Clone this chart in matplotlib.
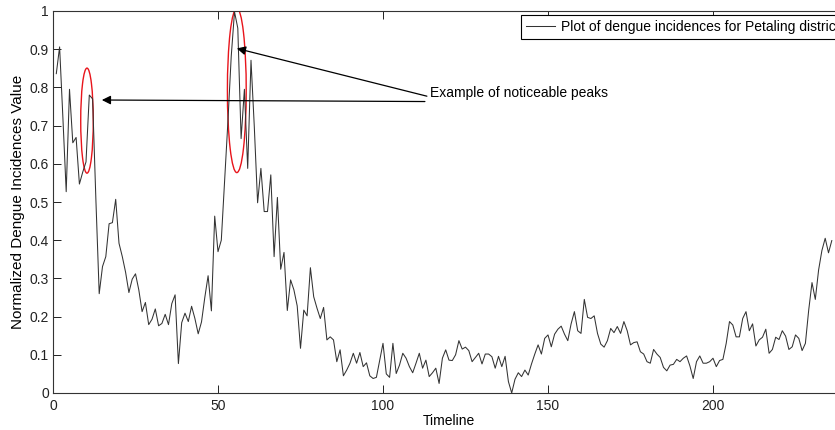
import numpy as np
import matplotlib
matplotlib.use("Agg")
import matplotlib.pyplot as plt
from matplotlib.patches import Ellipse

plt.rcParams['font.family'] = ['Liberation Sans', 'DejaVu Sans']

# normalized weekly dengue incidences, Petaling district
incidence = [
    0.836, 0.906, 0.720, 0.527, 0.795, 0.655, 0.669, 0.547, 0.578, 0.605,
    0.780, 0.770, 0.505, 0.260, 0.331, 0.357, 0.443, 0.446, 0.507, 0.392,
    0.357, 0.316, 0.263, 0.298, 0.312, 0.270, 0.213, 0.237, 0.179, 0.193,
    0.220, 0.176, 0.182, 0.206, 0.179, 0.234, 0.257, 0.077, 0.184, 0.209,
    0.187, 0.227, 0.195, 0.155, 0.186, 0.250, 0.307, 0.215, 0.463, 0.370,
    0.400, 0.557, 0.710, 0.880, 0.998, 0.955, 0.666, 0.795, 0.588, 0.871,
    0.697, 0.498, 0.588, 0.475, 0.475, 0.571, 0.357, 0.512, 0.324, 0.368,
    0.216, 0.296, 0.270, 0.228, 0.117, 0.217, 0.202, 0.328, 0.252, 0.222,
    0.195, 0.224, 0.139, 0.147, 0.139, 0.082, 0.113, 0.045, 0.060, 0.078,
    0.104, 0.078, 0.106, 0.069, 0.079, 0.045, 0.038, 0.041, 0.086, 0.130,
    0.050, 0.041, 0.130, 0.051, 0.073, 0.104, 0.091, 0.069, 0.053, 0.078,
    0.104, 0.065, 0.086, 0.043, 0.053, 0.065, 0.025, 0.091, 0.113, 0.086,
    0.085, 0.100, 0.137, 0.115, 0.120, 0.111, 0.082, 0.093, 0.104, 0.076,
    0.102, 0.102, 0.095, 0.065, 0.096, 0.069, 0.096, 0.030, 0.000, 0.036,
    0.053, 0.043, 0.060, 0.047, 0.076, 0.102, 0.126, 0.102, 0.143, 0.152,
    0.121, 0.154, 0.167, 0.175, 0.154, 0.137, 0.181, 0.213, 0.163, 0.156,
    0.245, 0.198, 0.195, 0.202, 0.156, 0.128, 0.120, 0.137, 0.169, 0.158,
    0.174, 0.156, 0.187, 0.163, 0.126, 0.132, 0.134, 0.108, 0.102, 0.082,
    0.078, 0.114, 0.102, 0.093, 0.067, 0.058, 0.073, 0.075, 0.088, 0.082,
    0.091, 0.097, 0.071, 0.038, 0.082, 0.097, 0.078, 0.078, 0.082, 0.091,
    0.069, 0.085, 0.088, 0.130, 0.187, 0.178, 0.147, 0.147, 0.195, 0.213,
    0.163, 0.181, 0.123, 0.139, 0.146, 0.167, 0.104, 0.114, 0.146, 0.140,
    0.163, 0.149, 0.114, 0.121, 0.152, 0.143, 0.111, 0.130, 0.217, 0.289,
    0.245, 0.322, 0.373, 0.405, 0.367, 0.399,
]
timeline = np.arange(1, len(incidence) + 1)

x_ticks = [0, 50, 100, 150, 200]
y_ticks = [0, 0.1, 0.2, 0.3, 0.4, 0.5, 0.6, 0.7, 0.8, 0.9, 1]
y_tick_labels = ['0', '0.1', '0.2', '0.3', '0.4', '0.5', '0.6', '0.7', '0.8', '0.9', '1']

legend_text = 'Plot of dengue incidences for Petaling district'
note_text = 'Example of noticeable peaks'

# peaks circled in red: (centre x, centre y, width, height) in data units
peak_rings = [(10.3, 0.713, 3.8, 0.275), (55.7, 0.792, 5.7, 0.43)]
# arrow tips pointing at the peaks, and where the note sits
arrow_tips = [(14.8, 0.767), (55.7, 0.902)]
arrow_tails = [(112.7, 0.763), (113.3, 0.777)]
note_pos = (114.2, 0.785)

fig = plt.figure(figsize=(8.35, 4.30), dpi=100)
# axes run a little past the right edge, as in the cropped original
ax = fig.add_axes([53 / 835, 37 / 430, 792 / 835, 382 / 430])

ax.plot(timeline, incidence, color='#333333', linewidth=0.75,
        label=legend_text)

for cx, cy, w, h in peak_rings:
    ax.add_patch(Ellipse((cx, cy), w, h, fill=False, edgecolor='#e8141b',
                         linewidth=1.0))

for tip, tail in zip(arrow_tips, arrow_tails):
    ax.annotate('', xy=tip, xytext=tail,
                arrowprops=dict(arrowstyle='-|>', color='black', lw=0.9,
                                mutation_scale=13, shrinkA=0, shrinkB=0))
ax.text(note_pos[0], note_pos[1], note_text, fontsize=10,
        ha='left', va='center')

ax.set_xlim(0, 240)
ax.set_ylim(0, 1)
ax.set_xticks(x_ticks)
ax.set_yticks(y_ticks)
ax.set_yticklabels(y_tick_labels)
ax.tick_params(direction='in', top=True, right=True, length=5.5,
               width=0.7, labelsize=10, colors='#222222')
ax.tick_params(axis='x', pad=4)
ax.tick_params(axis='y', pad=3)
for s in ax.spines.values():
    s.set_linewidth(0.8)
    s.set_color('#333333')

ax.set_xlabel('Timeline', fontsize=10, labelpad=1)
ax.set_ylabel('Normalized Dengue Incidences Value', fontsize=11, labelpad=3)

leg = ax.legend(loc='upper left', bbox_to_anchor=(521 / 835, 1 - 15 / 430),
                bbox_transform=fig.transFigure, borderaxespad=0,
                fontsize=10, handlelength=2.1, handletextpad=0.4,
                borderpad=0.35, fancybox=False, framealpha=1)
leg.get_frame().set_edgecolor('black')
leg.get_frame().set_linewidth(0.8)

fig.savefig('out.png', dpi=100)
